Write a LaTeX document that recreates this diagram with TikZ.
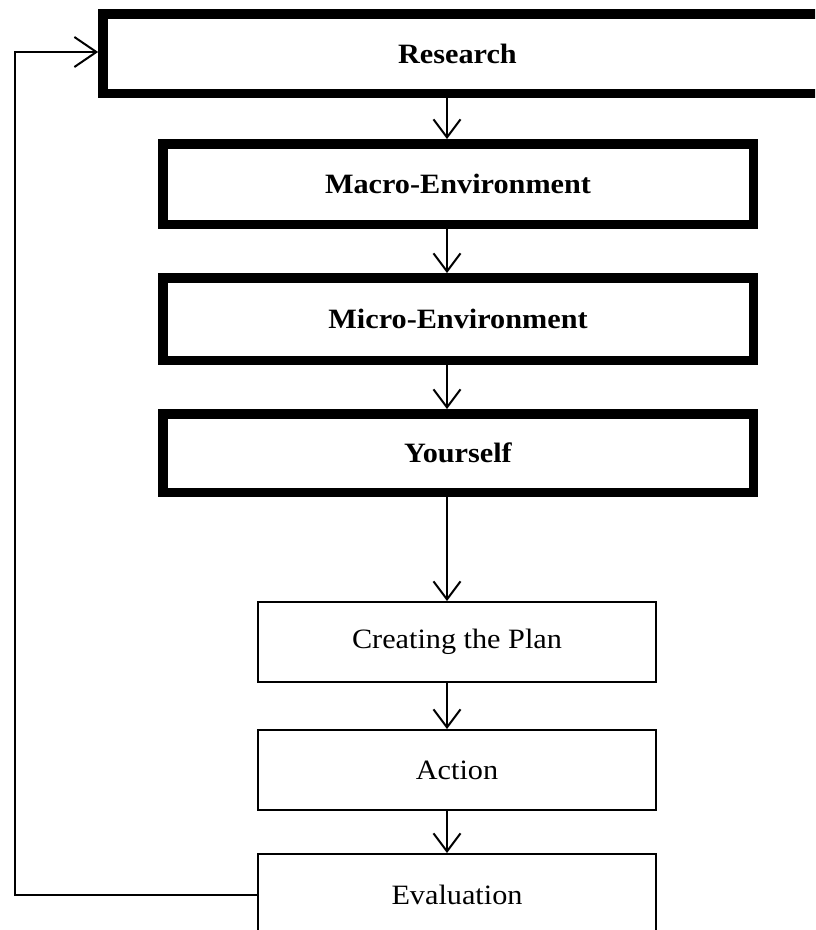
\documentclass[tikz,border=0pt]{standalone}
\usepackage{fontspec}
\setmainfont{Liberation Serif}[FakeStretch=1.08]
\usetikzlibrary{arrows.meta}
\begin{document}
\begin{tikzpicture}[x=1pt,y=-1pt,
  heavybox/.style={draw, line width=9.5pt, inner sep=0pt,
    font=\fontsize{28}{32}\selectfont\bfseries},
  lightbox/.style={draw, line width=2.4pt, inner sep=0pt,
    font=\fontsize{28}{32}\selectfont},
  arr/.style={line width=2pt,
    -{Straight Barb[length=18pt,width=27pt,line width=2pt]}},
  bigarr/.style={line width=2pt,
    -{Straight Barb[length=22pt,width=30pt,line width=2pt]}},
]
\fill[white] (0,0) rectangle (815,930);
\useasboundingbox (0,0) rectangle (815,930);
\clip (0,0) rectangle (815,930);

% research stages (heavy frames); the top frame runs off the right edge
\node[heavybox, minimum width=727pt, minimum height=79.5pt] (research) at (466.4,53.5) {Research\hspace*{18pt}};
\node[heavybox, minimum width=590.5pt, minimum height=80.5pt] (macro) at (458,184) {Macro-Environment};
\node[heavybox, minimum width=590.5pt, minimum height=82.5pt] (micro) at (458,319) {Micro-Environment};
\node[heavybox, minimum width=590.5pt, minimum height=78.5pt] (self) at (458,453) {Yourself};

% planning stages (light frames)
\node[lightbox, minimum width=397.6pt, minimum height=79.6pt] (plan) at (457,642) {Creating the Plan};
\node[lightbox, minimum width=397.6pt, minimum height=79.6pt] (action) at (457,770) {Action};
\node[lightbox, minimum width=397.6pt, minimum height=81.6pt] (eval) at (457,895) {Evaluation};

% vertical flow
\coordinate (ax) at (447,0);
\draw[arr] (research.south -| ax) -- (macro.north -| ax);
\draw[arr] (macro.south -| ax) -- (micro.north -| ax);
\draw[arr] (micro.south -| ax) -- (self.north -| ax);
\draw[arr] (self.south -| ax) -- (plan.north -| ax);
\draw[arr] (plan.south -| ax) -- (action.north -| ax);
\draw[arr] (action.south -| ax) -- (eval.north -| ax);

% feedback loop
\coordinate (fb) at (15,52);
\draw[bigarr] (eval.west) -| (fb) -- (research.west |- fb);
\end{tikzpicture}
\end{document}
